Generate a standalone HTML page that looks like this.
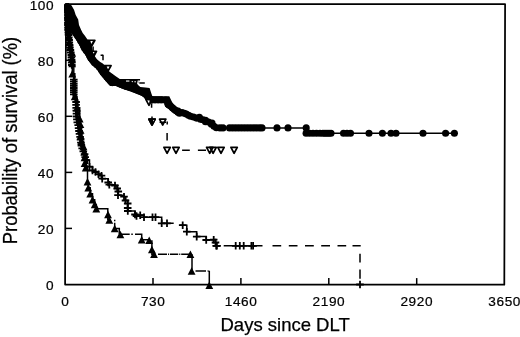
<!DOCTYPE html>
<html><head><meta charset="utf-8"><title>Survival</title>
<style>html,body{margin:0;padding:0;background:#fff}svg{display:block}</style></head><body>
<svg width="520" height="337" viewBox="0 0 520 337" font-family="'Liberation Sans', Arial, sans-serif" fill="#000">
<rect width="520" height="337" fill="#fff"/>
<defs><clipPath id="plotclip"><rect x="64.1" y="3" width="470" height="340" rx="2.5"/></clipPath></defs>
<g id="series" clip-path="url(#plotclip)">
<path id="band" d="M66.0,3.4 L69.0,3.6 L71.6,5.5 L74.1,10.0 L75.7,15.0 L78.2,19.5 L79.0,25.0 L81.2,30.0 L82.7,33.0 L84.7,35.5 L87.3,39.3 L90.3,41.0 L91.0,44.0 L91.8,46.5 L92.6,50.0 L93.0,53.0 L94.3,55.5 L96.7,59.0 L98.4,60.5 L100.2,62.0 L102.4,63.3 L104.2,64.8 L107.0,69.0 L109.3,71.5 L111.3,73.0 L115.4,76.0 L119.8,78.9 L140.3,78.9 L137.5,84.5 L140.3,86.9 L145.4,87.6 L149.6,88.0 L152.1,95.7 L153.0,96.2 L169.3,96.3 L171.3,100.5 L173.8,105.3 L177.0,107.2 L176.0,115.0 L172.3,112.3 L168.3,108.8 L165.3,106.3 L164.3,103.2 L152.0,103.2 L148.0,102.5 L145.6,99.2 L143.0,96.6 L140.3,95.3 L135.3,93.2 L130.2,91.2 L125.2,89.8 L120.1,87.8 L115.4,85.8 L111.0,85.9 L108.5,84.0 L104.2,79.2 L100.2,74.4 L96.7,69.2 L92.1,65.1 L88.0,60.0 L85.3,55.0 L81.7,50.0 L79.2,45.0 L76.2,40.0 L71.6,33.0 L66.0,34.0 Z" fill="#000"/>
<path id="line-circle" d="M176,111 L216.4,127.9 H306.2 V133.3 H454.4" stroke="#000" stroke-width="1.5" fill="none"/>
<g id="markers-circle" fill="#000">
<circle cx="65.6" cy="4.2" r="3.55"/>
<circle cx="66.4" cy="7.0" r="3.55"/>
<circle cx="67.5" cy="10.0" r="3.55"/>
<circle cx="68.6" cy="13.0" r="3.55"/>
<circle cx="69.6" cy="16.0" r="3.55"/>
<circle cx="70.6" cy="19.0" r="3.55"/>
<circle cx="71.6" cy="22.0" r="3.55"/>
<circle cx="72.6" cy="25.0" r="3.55"/>
<circle cx="73.6" cy="28.0" r="3.55"/>
<circle cx="74.4" cy="31.0" r="3.55"/>
<circle cx="74.5" cy="31.1" r="3.55"/>
<circle cx="76.1" cy="33.4" r="3.55"/>
<circle cx="77.6" cy="35.7" r="3.55"/>
<circle cx="79.2" cy="38.1" r="3.55"/>
<circle cx="80.7" cy="40.7" r="3.55"/>
<circle cx="82.3" cy="43.3" r="3.55"/>
<circle cx="83.6" cy="45.9" r="3.55"/>
<circle cx="84.7" cy="48.2" r="3.55"/>
<circle cx="86.3" cy="50.5" r="3.55"/>
<circle cx="88.3" cy="53.1" r="3.55"/>
<circle cx="89.7" cy="55.8" r="3.55"/>
<circle cx="90.9" cy="58.1" r="3.55"/>
<circle cx="92.1" cy="59.5" r="3.55"/>
<circle cx="93.5" cy="61.2" r="3.55"/>
<circle cx="94.6" cy="62.7" r="3.55"/>
<circle cx="96.7" cy="64.5" r="3.55"/>
<circle cx="99.3" cy="66.9" r="3.55"/>
<circle cx="101.4" cy="69.8" r="3.55"/>
<circle cx="103.0" cy="72.3" r="3.55"/>
<circle cx="104.9" cy="74.6" r="3.55"/>
<circle cx="106.9" cy="76.9" r="3.55"/>
<circle cx="108.2" cy="78.5" r="3.55"/>
<circle cx="109.7" cy="80.1" r="3.55"/>
<circle cx="110.8" cy="81.4" r="3.55"/>
<circle cx="112.3" cy="82.6" r="3.55"/>
<circle cx="113.1" cy="82.4" r="3.55"/>
<circle cx="116.1" cy="82.4" r="3.55"/>
<circle cx="119.1" cy="83.6" r="3.55"/>
<circle cx="121.4" cy="84.6" r="3.55"/>
<circle cx="123.9" cy="85.5" r="3.55"/>
<circle cx="126.3" cy="86.5" r="3.55"/>
<circle cx="128.6" cy="87.1" r="3.55"/>
<circle cx="131.3" cy="87.9" r="3.55"/>
<circle cx="134.0" cy="88.9" r="3.55"/>
<circle cx="136.6" cy="90.0" r="3.55"/>
<circle cx="139.2" cy="91.0" r="3.55"/>
<circle cx="141.7" cy="92.1" r="3.55"/>
<circle cx="144.9" cy="93.7" r="3.55"/>
<circle cx="146.8" cy="95.4" r="3.55"/>
<circle cx="148.3" cy="96.9" r="3.55"/>
<circle cx="149.6" cy="98.8" r="3.55"/>
<circle cx="149.9" cy="99.5" r="3.55"/>
<circle cx="150.6" cy="99.4" r="3.55"/>
<circle cx="152.2" cy="99.7" r="3.55"/>
<circle cx="155.1" cy="99.7" r="3.55"/>
<circle cx="158.2" cy="99.7" r="3.55"/>
<circle cx="161.2" cy="99.7" r="3.55"/>
<circle cx="165.7" cy="100.0" r="3.55"/>
<circle cx="168.1" cy="103.7" r="3.55"/>
<circle cx="168.1" cy="104.3" r="3.55"/>
<circle cx="169.0" cy="104.9" r="3.55"/>
<circle cx="170.6" cy="106.1" r="3.55"/>
<circle cx="172.6" cy="107.9" r="3.55"/>
<circle cx="174.5" cy="109.6" r="3.55"/>
<circle cx="176.2" cy="110.8" r="3.55"/>
<circle cx="178.1" cy="112.2" r="3.55"/>
<circle cx="178.0" cy="111.1" r="3.55"/>
<circle cx="179.5" cy="113.2" r="3.55"/>
<circle cx="182.0" cy="112.5" r="3.55"/>
<circle cx="184.2" cy="113.2" r="3.55"/>
<circle cx="186.3" cy="114.0" r="3.55"/>
<circle cx="188.5" cy="115.3" r="3.55"/>
<circle cx="190.5" cy="116.3" r="3.55"/>
<circle cx="193.5" cy="117.0" r="3.55"/>
<circle cx="196.4" cy="118.1" r="3.55"/>
<circle cx="199.4" cy="117.2" r="3.55"/>
<circle cx="200.4" cy="119.3" r="3.55"/>
<circle cx="203.0" cy="119.8" r="3.55"/>
<circle cx="205.5" cy="120.2" r="3.55"/>
<circle cx="205.5" cy="121.8" r="3.55"/>
<circle cx="208.5" cy="122.0" r="3.55"/>
<circle cx="212.0" cy="123.0" r="3.55"/>
<circle cx="211.4" cy="124.3" r="3.55"/>
<circle cx="214.0" cy="126.3" r="3.55"/>
<circle cx="216.4" cy="127.8" r="3.55"/>
<circle cx="220.0" cy="127.9" r="3.55"/>
<circle cx="223.0" cy="127.9" r="3.55"/>
<circle cx="229.5" cy="127.9" r="3.55"/>
<circle cx="232.5" cy="127.9" r="3.55"/>
<circle cx="235.5" cy="127.9" r="3.55"/>
<circle cx="238.5" cy="127.9" r="3.55"/>
<circle cx="241.5" cy="127.9" r="3.55"/>
<circle cx="244.5" cy="127.9" r="3.55"/>
<circle cx="247.5" cy="127.9" r="3.55"/>
<circle cx="250.5" cy="127.9" r="3.55"/>
<circle cx="253.5" cy="127.9" r="3.55"/>
<circle cx="256.5" cy="127.9" r="3.55"/>
<circle cx="259.5" cy="127.9" r="3.55"/>
<circle cx="262.0" cy="127.9" r="3.55"/>
<circle cx="277.0" cy="127.9" r="3.55"/>
<circle cx="288.0" cy="127.9" r="3.55"/>
<circle cx="306.2" cy="127.9" r="3.55"/>
<circle cx="306.1" cy="133.3" r="3.55"/>
<circle cx="309.5" cy="133.3" r="3.55"/>
<circle cx="313.0" cy="133.3" r="3.55"/>
<circle cx="316.5" cy="133.3" r="3.55"/>
<circle cx="320.0" cy="133.3" r="3.55"/>
<circle cx="323.0" cy="133.3" r="3.55"/>
<circle cx="325.0" cy="133.3" r="3.55"/>
<circle cx="327.0" cy="133.3" r="3.55"/>
<circle cx="329.0" cy="133.3" r="3.55"/>
<circle cx="331.0" cy="133.3" r="3.55"/>
<circle cx="343.5" cy="133.3" r="3.55"/>
<circle cx="347.0" cy="133.3" r="3.55"/>
<circle cx="350.5" cy="133.3" r="3.55"/>
<circle cx="369.0" cy="133.3" r="3.55"/>
<circle cx="382.4" cy="133.3" r="3.55"/>
<circle cx="391.0" cy="133.3" r="3.55"/>
<circle cx="396.0" cy="133.3" r="3.55"/>
<circle cx="423.0" cy="133.3" r="3.55"/>
<circle cx="445.6" cy="133.3" r="3.55"/>
<circle cx="454.4" cy="133.3" r="3.55"/>
</g>
<g id="slivers" fill="#fff"><rect x="126" y="80.5" width="3.4" height="1.1"/><circle cx="132.3" cy="81.6" r="0.7"/><circle cx="135.1" cy="81.7" r="0.7"/><path d="M137.7,80.6 L139.2,80.6 L137.9,84 L137.1,84 Z"/><path d="M90.6,41 L92.9,41 L91.4,44.2 Z"/><path d="M93,52 L94.4,52 L93.6,53.6 Z"/><path d="M146.4,100.2 L149.6,100.2 L149.1,104.6 Z"/></g>
<g id="series-otri" stroke="#000" stroke-width="1.7" fill="none" stroke-linejoin="round">
<line x1="93.1" y1="46.5" x2="93.1" y2="50.9" stroke-width="1.5"/>
<line x1="100.6" y1="55.2" x2="103" y2="55.2" stroke-width="1.5"/>
<line x1="103" y1="54.7" x2="103" y2="60.3" stroke-width="1.5"/>
<line x1="139.3" y1="83" x2="144.8" y2="83" stroke-width="1.5"/>
<line x1="151.6" y1="103.2" x2="151.6" y2="107.8" stroke-width="1.5"/>
<line x1="152" y1="116.4" x2="152" y2="125" stroke-width="1.5"/>
<line x1="159.6" y1="122.3" x2="166" y2="122.3" stroke-width="1.5"/>
<line x1="167.2" y1="121.6" x2="167.2" y2="124.5" stroke-width="1.5"/>
<line x1="167.1" y1="133" x2="167.1" y2="140.6" stroke-width="1.5"/>
<line x1="182.1" y1="150.2" x2="189.8" y2="150.2" stroke-width="1.5"/>
<line x1="197.9" y1="150.2" x2="206" y2="150.2" stroke-width="1.5"/>
<path d="M145.80,99.45 L152.20,99.45 L149.00,105.35 Z"/>
<path d="M148.80,119.15 L155.20,119.15 L152.00,125.05 Z"/>
<path d="M159.50,119.15 L165.90,119.15 L162.70,125.05 Z"/>
<path d="M163.90,147.35 L170.30,147.35 L167.10,153.25 Z"/>
<path d="M172.80,147.35 L179.20,147.35 L176.00,153.25 Z"/>
<path d="M206.55,147.35 L212.95,147.35 L209.75,153.25 Z"/>
<path d="M209.90,147.35 L216.30,147.35 L213.10,153.25 Z"/>
<path d="M217.80,147.35 L224.20,147.35 L221.00,153.25 Z"/>
<path d="M230.90,147.35 L237.30,147.35 L234.10,153.25 Z"/>
</g>
<g id="otri-covered" stroke="#000" stroke-width="1.7" fill="#000" stroke-linejoin="round"><path d="M148.80,119.15 L155.20,119.15 L152.00,125.05 Z"/><path d="M88.50,40.25 L94.90,40.25 L91.70,46.15 Z"/><path d="M90.10,51.35 L96.50,51.35 L93.30,57.25 Z"/><path d="M104.70,65.55 L111.10,65.55 L107.90,71.45 Z"/><line x1="110.3" y1="80" x2="110.3" y2="85.9" stroke-width="1.4"/></g>
<g id="slivers2" fill="#fff"><path d="M90.4,40.9 L92.9,40.9 L91.3,44.1 Z"/><path d="M92.9,52.1 L94.5,52.1 L93.6,53.8 Z"/><path d="M106.7,66.5 L109.5,66.5 L108.4,68.8 L107.7,68.8 Z"/><circle cx="153.6" cy="120.6" r="0.55"/></g>
<path id="steep-core-a" d="M66.2,5.0 L66.4,8.0 L66.7,11.0 L66.9,14.0 L67.2,17.0 L67.4,20.0 L67.7,23.0 L67.9,26.0 L68.2,29.0 L68.5,32.0 L68.8,35.0 L69.0,38.0 L69.4,41.0 L69.7,44.0 L70.0,47.0 L70.6,50.0 L71.1,53.0 L71.6,56.0 L71.7,59.0 L71.9,62.0 L72.0,65.0" stroke="#000" stroke-width="3.6" fill="none"/>
<path id="steep-core-b" d="M74.2,79.0 L74.2,82.0 L74.2,85.0 L74.2,88.0 L74.2,91.0 L74.2,94.0 L74.6,96.5 L76.6,101.0 L76.7,104.0 L76.8,107.0 L76.9,110.0 L77.0,113.0 L77.2,116.0 L77.5,119.0 L77.8,122.0 L78.8,125.0 L79.2,128.0 L79.6,131.0 L80.1,134.0 L80.7,137.0 L81.1,140.0 L81.6,143.0 L82.2,146.0 L82.9,149.0 L84.3,152.0 L85.4,155.0 L85.9,158.0 L86.4,161.0 L86.5,164.0" stroke="#000" stroke-width="3.8" fill="none"/>
<g id="series-plus" stroke="#000" stroke-width="1.5" fill="none">
<path d="M66.0,4.2 H66.2 V7.5 H66.4 V10.0 H66.6 V12.5 H66.8 V15.0 H67.0 V17.5 H67.2 V20.0 H67.4 V22.5 H67.7 V25.0 H67.9 V27.5 H68.1 V30.0 H68.3 V32.5 H68.6 V35.0 H68.8 V37.5 H69.1 V40.0 H69.3 V42.5 H69.6 V45.0 H69.9 V47.5 H70.4 V50.0 H70.8 V52.5 H71.3 V55.0 H71.4 V57.5 H71.6 V60.0 H71.7 V62.5 H71.8 V65.0 H73.8 V79.6 H73.8 V81.7 H73.8 V83.8 H73.8 V85.9 H73.8 V88.0 H73.8 V90.1 H73.8 V92.2 H73.8 V94.3 H76.1 V102.0 H76.1 V104.9 H76.2 V107.8 H76.3 V110.7 H76.5 V113.6 H76.6 V116.5 H76.9 V119.4 H77.3 V122.3 H78.2 V125.2 H78.6 V128.1 H79.0 V131.0 H79.5 V133.9 H80.1 V136.8 H80.5 V139.7 H80.9 V142.6 H81.4 V145.5 H82.2 V148.4 H83.3 V151.3 H84.6 V154.2 H85.2 V157.1 H85.7 V160.0 H89.5 V166.7 H92.5 V170.5 H95.5 V172.0 H98.5 V174.2 H101.5 V175.7 H102.2 V178.7 H108.2 V182.5 H109.3 V184.7 H115.0 V185.5 H117.2 V188.5 H118.3 V191.5 H118.0 V195.2 H124.0 V196.7 H125.5 V200.5 H127.7 V203.5 H127.7 V208.0 H127.8 V211.0 H135.0 V214.5 H136.5 V216.0 H140.2 V215.2 H144.0 V217.2 H152.5 V217.2 H155.5 V217.2 H161.7 V223.3 H167.0 V223.3 H173.7 M179.7,225.2 H182.7 V225.2 H186.8 V231.7 H196.7 V236.6 H206.2 V240.0 H213.7 V239.7 H215.5 V242.5 H216.2 V245.8 H216.9 V245.8 H220.7 M223.7,245.8 H262.5"/>
<path d="M272.5,245.8 H281.2 M288.8,245.8 H297.5 M305,245.8 H313.8 M321.2,245.8 H330 M337.5,245.8 H346.2 M352.5,245.8 H360.7 M360,253.8 V262.5 M360,269.5 V278.8"/>
</g>
<g id="markers-plus" stroke="#000" stroke-width="1.8" fill="none">
<path d="M62.4,7.5 H70.0 M66.2,3.7 V11.3"/>
<path d="M62.6,10.0 H70.2 M66.4,6.2 V13.8"/>
<path d="M62.8,12.5 H70.4 M66.6,8.7 V16.3"/>
<path d="M63.0,15.0 H70.6 M66.8,11.2 V18.8"/>
<path d="M63.2,17.5 H70.8 M67.0,13.7 V21.3"/>
<path d="M63.4,20.0 H71.0 M67.2,16.2 V23.8"/>
<path d="M63.6,22.5 H71.2 M67.4,18.7 V26.3"/>
<path d="M63.9,25.0 H71.5 M67.7,21.2 V28.8"/>
<path d="M64.1,27.5 H71.7 M67.9,23.7 V31.3"/>
<path d="M64.3,30.0 H71.9 M68.1,26.2 V33.8"/>
<path d="M64.5,32.5 H72.1 M68.3,28.7 V36.3"/>
<path d="M64.8,35.0 H72.4 M68.6,31.2 V38.8"/>
<path d="M65.0,37.5 H72.6 M68.8,33.7 V41.3"/>
<path d="M65.3,40.0 H72.9 M69.1,36.2 V43.8"/>
<path d="M65.5,42.5 H73.1 M69.3,38.7 V46.3"/>
<path d="M65.8,45.0 H73.4 M69.6,41.2 V48.8"/>
<path d="M66.1,47.5 H73.7 M69.9,43.7 V51.3"/>
<path d="M66.6,50.0 H74.2 M70.4,46.2 V53.8"/>
<path d="M67.0,52.5 H74.6 M70.8,48.7 V56.3"/>
<path d="M67.5,55.0 H75.1 M71.3,51.2 V58.8"/>
<path d="M67.6,57.5 H75.2 M71.4,53.7 V61.3"/>
<path d="M67.8,60.0 H75.4 M71.6,56.2 V63.8"/>
<path d="M67.9,62.5 H75.5 M71.7,58.7 V66.3"/>
<path d="M68.0,65.0 H75.6 M71.8,61.2 V68.8"/>
<path d="M70.0,79.6 H77.6 M73.8,75.8 V83.4"/>
<path d="M70.0,81.7 H77.6 M73.8,77.9 V85.5"/>
<path d="M70.0,83.8 H77.6 M73.8,80.0 V87.6"/>
<path d="M70.0,85.9 H77.6 M73.8,82.1 V89.7"/>
<path d="M70.0,88.0 H77.6 M73.8,84.2 V91.8"/>
<path d="M70.0,90.1 H77.6 M73.8,86.3 V93.9"/>
<path d="M70.0,92.2 H77.6 M73.8,88.4 V96.0"/>
<path d="M70.0,94.3 H77.6 M73.8,90.5 V98.1"/>
<path d="M72.3,102.0 H79.9 M76.1,98.2 V105.8"/>
<path d="M72.3,104.9 H79.9 M76.1,101.1 V108.7"/>
<path d="M72.4,107.8 H80.0 M76.2,104.0 V111.6"/>
<path d="M72.5,110.7 H80.1 M76.3,106.9 V114.5"/>
<path d="M72.7,113.6 H80.3 M76.5,109.8 V117.4"/>
<path d="M72.8,116.5 H80.4 M76.6,112.7 V120.3"/>
<path d="M73.1,119.4 H80.7 M76.9,115.6 V123.2"/>
<path d="M73.5,122.3 H81.1 M77.3,118.5 V126.1"/>
<path d="M74.4,125.2 H82.0 M78.2,121.4 V129.0"/>
<path d="M74.8,128.1 H82.4 M78.6,124.3 V131.9"/>
<path d="M75.2,131.0 H82.8 M79.0,127.2 V134.8"/>
<path d="M75.7,133.9 H83.3 M79.5,130.1 V137.7"/>
<path d="M76.3,136.8 H83.9 M80.1,133.0 V140.6"/>
<path d="M76.7,139.7 H84.3 M80.5,135.9 V143.5"/>
<path d="M77.1,142.6 H84.7 M80.9,138.8 V146.4"/>
<path d="M77.6,145.5 H85.2 M81.4,141.7 V149.3"/>
<path d="M78.4,148.4 H86.0 M82.2,144.6 V152.2"/>
<path d="M79.5,151.3 H87.1 M83.3,147.5 V155.1"/>
<path d="M80.8,154.2 H88.4 M84.6,150.4 V158.0"/>
<path d="M81.4,157.1 H89.0 M85.2,153.3 V160.9"/>
<path d="M81.9,160.0 H89.5 M85.7,156.2 V163.8"/>
<path d="M85.7,166.7 H93.3 M89.5,162.9 V170.5"/>
<path d="M88.7,170.5 H96.3 M92.5,166.7 V174.3"/>
<path d="M91.7,172.0 H99.3 M95.5,168.2 V175.8"/>
<path d="M94.7,174.2 H102.3 M98.5,170.4 V178.0"/>
<path d="M97.7,175.7 H105.3 M101.5,171.9 V179.5"/>
<path d="M98.4,178.7 H106.0 M102.2,174.9 V182.5"/>
<path d="M104.4,182.5 H112.0 M108.2,178.7 V186.3"/>
<path d="M105.5,184.7 H113.1 M109.3,180.9 V188.5"/>
<path d="M111.2,185.5 H118.8 M115.0,181.7 V189.3"/>
<path d="M113.4,188.5 H121.0 M117.2,184.7 V192.3"/>
<path d="M114.5,191.5 H122.1 M118.3,187.7 V195.3"/>
<path d="M114.2,195.2 H121.8 M118.0,191.4 V199.0"/>
<path d="M120.2,196.7 H127.8 M124.0,192.9 V200.5"/>
<path d="M121.7,200.5 H129.3 M125.5,196.7 V204.3"/>
<path d="M123.9,203.5 H131.5 M127.7,199.7 V207.3"/>
<path d="M123.9,208.0 H131.5 M127.7,204.2 V211.8"/>
<path d="M124.0,211.0 H131.6 M127.8,207.2 V214.8"/>
<path d="M131.2,214.5 H138.8 M135.0,210.7 V218.3"/>
<path d="M132.7,216.0 H140.3 M136.5,212.2 V219.8"/>
<path d="M136.4,215.2 H144.0 M140.2,211.4 V219.0"/>
<path d="M140.2,217.2 H147.8 M144.0,213.4 V221.0"/>
<path d="M148.7,217.2 H156.3 M152.5,213.4 V221.0"/>
<path d="M151.7,217.2 H159.3 M155.5,213.4 V221.0"/>
<path d="M157.9,223.3 H165.5 M161.7,219.5 V227.1"/>
<path d="M163.2,223.3 H170.8 M167.0,219.5 V227.1"/>
<path d="M178.9,225.2 H186.5 M182.7,221.4 V229.0"/>
<path d="M183.0,231.7 H190.6 M186.8,227.9 V235.5"/>
<path d="M192.9,236.6 H200.5 M196.7,232.8 V240.4"/>
<path d="M202.4,240.0 H210.0 M206.2,236.2 V243.8"/>
<path d="M209.9,239.7 H217.5 M213.7,235.9 V243.5"/>
<path d="M211.7,242.5 H219.3 M215.5,238.7 V246.3"/>
<path d="M212.4,245.8 H220.0 M216.2,242.0 V249.6"/>
<path d="M213.1,245.8 H220.7 M216.9,242.0 V249.6"/>
<path d="M231.9,245.8 H239.5 M235.7,242.0 V249.6"/>
<path d="M236.0,245.8 H243.6 M239.8,242.0 V249.6"/>
<path d="M239.9,245.8 H247.5 M243.7,242.0 V249.6"/>
<path d="M247.6,245.8 H255.2 M251.4,242.0 V249.6"/>
<path d="M249.3,245.8 H256.9 M253.1,242.0 V249.6"/>
<path d="M356.2,284.5 H363.8 M360.0,280.7 V288.3"/>
</g>
<g id="series-ftri" stroke="#000" stroke-width="1.5" fill="none">
<path d="M66.0,4.2 H66.7 V10.0 H67.1 V15.3 H67.6 V20.6 H68.0 V25.9 H68.5 V31.2 H69.0 V36.5 H69.5 V41.8 H70.1 V47.1 H72.2 V53.0 H72.2 V58.8 H72.2 V63.6 H72.3 V73.8 H74.8 V96.5 H77.0 V107.8 H79.7 V118.7 H80.4 V124.3 H80.6 V130.0 H80.8 V135.5 H81.3 V141.4 H83.5 V146.6 H84.3 V152.0 H84.5 V157.5 H84.6 V163.3 H85.7 V167.8 H87.5 V181.7 H88.3 V187.7 H90.2 V193.7 H92.5 V199.7 H94.7 V204.5 H96.3 V208.8 H107.8 V220 M114,220.5 h1.4 M114.7,222.7 V228.5 H119.3 V234.3 M120.4,234.3 H129.7 M131.3,234.3 h1.5 M135,234.3 H141.7 V239.8 H149.2 M151.9,240.2 V254.2 H155.8 M158,254.2 H167 M168,254.2 h1.1 M170,254.2 H178.2 M179.2,254.2 h1.1 M181.2,254.2 H189.5 M192,254.2 V271 M195.5,271 H206 M207.6,271 h0.9 M209.3,270.8 V285"/>
</g>
<g id="markers-ftri" fill="#000">
<path d="M62.8,13.7 L70.6,13.7 L66.7,6.2 Z"/>
<path d="M63.2,19.0 L71.0,19.0 L67.1,11.5 Z"/>
<path d="M63.7,24.3 L71.5,24.3 L67.6,16.8 Z"/>
<path d="M64.1,29.6 L71.9,29.6 L68.0,22.1 Z"/>
<path d="M64.6,34.9 L72.4,34.9 L68.5,27.4 Z"/>
<path d="M65.1,40.2 L72.9,40.2 L69.0,32.7 Z"/>
<path d="M65.6,45.5 L73.4,45.5 L69.5,38.0 Z"/>
<path d="M66.2,50.8 L74.0,50.8 L70.1,43.3 Z"/>
<path d="M68.3,56.7 L76.1,56.7 L72.2,49.2 Z"/>
<path d="M68.3,62.5 L76.1,62.5 L72.2,55.0 Z"/>
<path d="M68.3,67.3 L76.1,67.3 L72.2,59.8 Z"/>
<path d="M68.4,77.5 L76.2,77.5 L72.3,70.0 Z"/>
<path d="M70.8,100.2 L78.7,100.2 L74.8,92.7 Z"/>
<path d="M73.1,111.5 L80.9,111.5 L77.0,104.0 Z"/>
<path d="M75.8,122.4 L83.6,122.4 L79.7,114.9 Z"/>
<path d="M76.5,128.0 L84.3,128.0 L80.4,120.5 Z"/>
<path d="M76.7,133.7 L84.5,133.7 L80.6,126.2 Z"/>
<path d="M76.9,139.2 L84.7,139.2 L80.8,131.7 Z"/>
<path d="M77.4,145.1 L85.2,145.1 L81.3,137.6 Z"/>
<path d="M79.6,150.3 L87.4,150.3 L83.5,142.8 Z"/>
<path d="M80.4,155.7 L88.2,155.7 L84.3,148.2 Z"/>
<path d="M80.6,161.2 L88.4,161.2 L84.5,153.7 Z"/>
<path d="M80.7,167.0 L88.5,167.0 L84.6,159.5 Z"/>
<path d="M81.8,171.5 L89.6,171.5 L85.7,164.0 Z"/>
<path d="M83.6,185.4 L91.4,185.4 L87.5,177.9 Z"/>
<path d="M84.4,191.4 L92.2,191.4 L88.3,183.9 Z"/>
<path d="M86.3,197.4 L94.1,197.4 L90.2,189.9 Z"/>
<path d="M88.6,203.4 L96.4,203.4 L92.5,195.9 Z"/>
<path d="M90.8,208.2 L98.6,208.2 L94.7,200.7 Z"/>
<path d="M92.4,212.5 L100.2,212.5 L96.3,205.0 Z"/>
<path d="M104.1,218.2 L111.9,218.2 L108.0,210.7 Z"/>
<path d="M105.4,223.7 L113.2,223.7 L109.3,216.2 Z"/>
<path d="M110.8,232.2 L118.6,232.2 L114.7,224.7 Z"/>
<path d="M116.5,238.2 L124.3,238.2 L120.4,230.7 Z"/>
<path d="M137.8,243.5 L145.6,243.5 L141.7,236.0 Z"/>
<path d="M145.3,243.9 L153.1,243.9 L149.2,236.4 Z"/>
<path d="M148.0,253.3 L155.8,253.3 L151.9,245.8 Z"/>
<path d="M150.1,257.9 L157.9,257.9 L154.0,250.4 Z"/>
<path d="M186.5,257.9 L194.3,257.9 L190.4,250.4 Z"/>
<path d="M187.7,274.7 L195.5,274.7 L191.6,267.2 Z"/>
<path d="M205.4,289.1 L213.2,289.1 L209.3,281.6 Z"/>
</g>
</g>
<g id="axes" stroke="#000" fill="none">
<path d="M65.1,284.5 L66,4.2 L505.1,4.2 L504.3,284.7 Z" stroke-width="1.75" stroke-linejoin="round"/>
<line x1="153.0" y1="284.5" x2="153.0" y2="278.1" stroke-width="1.5"/>
<line x1="240.9" y1="284.5" x2="240.9" y2="278.1" stroke-width="1.5"/>
<line x1="328.8" y1="284.5" x2="328.8" y2="278.1" stroke-width="1.5"/>
<line x1="416.7" y1="284.5" x2="416.7" y2="278.1" stroke-width="1.5"/>
<line x1="65.3" y1="228.4" x2="72.0" y2="228.4" stroke-width="1.5"/>
<line x1="65.5" y1="172.4" x2="72.2" y2="172.4" stroke-width="1.5"/>
<line x1="65.6" y1="116.3" x2="72.3" y2="116.3" stroke-width="1.5"/>
<line x1="65.8" y1="60.3" x2="72.5" y2="60.3" stroke-width="1.5"/>
</g>
<g id="ylabels" font-size="12.4" letter-spacing="0.55" text-anchor="end" stroke="#000" stroke-width="0.2">
<text transform="translate(54.2,290.4) scale(1.1,1)">0</text>
<text transform="translate(54.2,234.3) scale(1.1,1)">20</text>
<text transform="translate(54.2,178.3) scale(1.1,1)">40</text>
<text transform="translate(54.2,122.2) scale(1.1,1)">60</text>
<text transform="translate(54.2,66.2) scale(1.1,1)">80</text>
<text transform="translate(54.2,10.1) scale(1.1,1)">100</text>
</g>
<g id="xlabels" font-size="12.4" letter-spacing="0.55" text-anchor="middle" stroke="#000" stroke-width="0.2">
<text transform="translate(65.4,305.8) scale(1.1,1)">0</text>
<text transform="translate(153.2,305.8) scale(1.1,1)">730</text>
<text transform="translate(241.1,305.8) scale(1.1,1)">1460</text>
<text transform="translate(328.9,305.8) scale(1.1,1)">2190</text>
<text transform="translate(416.8,305.8) scale(1.1,1)">2920</text>
<text transform="translate(504.7,305.8) scale(1.1,1)">3650</text>
</g>
<text id="xtitle" stroke="#000" stroke-width="0.25" x="285.1" y="331.3" font-size="18.5" text-anchor="middle">Days since DLT</text>
<text id="ytitle" stroke="#000" stroke-width="0.25" transform="translate(17.1,140.5) scale(1.09,1) rotate(-90)" font-size="18.4" text-anchor="middle">Probability of survival (%)</text>
</svg></body></html>
